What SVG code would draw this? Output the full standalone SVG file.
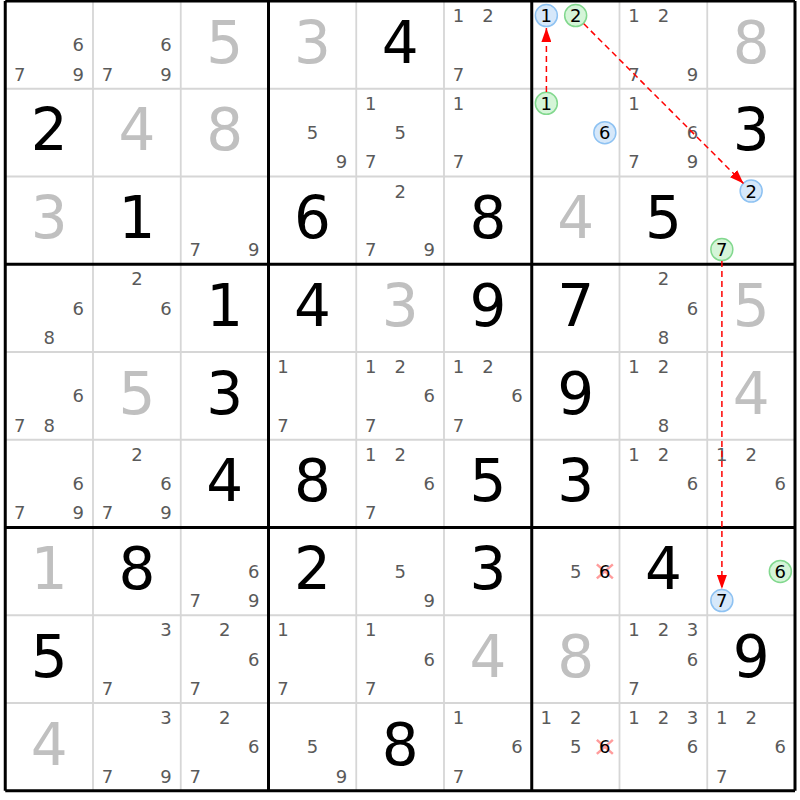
<svg xmlns="http://www.w3.org/2000/svg" width="800" height="800" viewBox="0 0 800 800">
<style>
text{font-family:"DejaVu Sans","Noto Sans",sans-serif;text-anchor:middle}
.c{font-size:18px;fill:#5a5a5a}
.k{font-size:18px;fill:#000}
.v{font-size:58px;fill:#000}
.g{font-size:58px;fill:#c0c0c0}
.thin{stroke:#d6d6d6;stroke-width:1.8}
.thick{stroke:#000;stroke-width:3}
.cb{fill:#d6e8fa;stroke:#8ec2f2;stroke-width:1.5}
.cg{fill:#d5f5d8;stroke:#82d88e;stroke-width:1.5}
.x{stroke:#ff9c9c;stroke-width:2.5}
.arr{stroke:#ff0000;stroke-width:1.5;stroke-dasharray:6 4;fill:none}
</style>
<defs>
<marker id="ah" markerUnits="userSpaceOnUse" markerWidth="14" markerHeight="10" refX="14" refY="5" orient="auto">
<path d="M0,0 L14,5 L0,10 z" fill="#ff0000"/>
</marker>
</defs>
<rect width="800" height="800" fill="#fff"/>
<g id="grid">
<path class="thin" d="M93 1V790.75M180.75 1V790.75M356.25 1V790.75M444 1V790.75M619.5 1V790.75M707.25 1V790.75M5.25 88.75H795M5.25 176.5H795M5.25 352H795M5.25 439.75H795M5.25 615.25H795M5.25 703H795"/>
<path class="thick" d="M5.25 1V790.75M268.5 1V790.75M531.75 1V790.75M795 1V790.75M5.25 1H795M5.25 264.25H795M5.25 527.5H795M5.25 790.75H795"/>
</g>
<!-- Row 0 -->
<g id="r0c0" transform="translate(5.25,1)"><text class="c" x="73.1" y="50.4">6</text><text class="c" x="14.6" y="79.6">7</text><text class="c" x="73.1" y="79.6">9</text></g>
<g id="r0c1" transform="translate(93,1)"><text class="c" x="73.1" y="50.4">6</text><text class="c" x="14.6" y="79.6">7</text><text class="c" x="73.1" y="79.6">9</text></g>
<g id="r0c2" transform="translate(180.75,1)"><text class="g" x="43.9" y="61.5">5</text></g>
<g id="r0c3" transform="translate(268.5,1)"><text class="g" x="43.9" y="61.5">3</text></g>
<g id="r0c4" transform="translate(356.25,1)"><text class="v" x="43.9" y="61.5">4</text></g>
<g id="r0c5" transform="translate(444,1)"><text class="c" x="14.6" y="21.1">1</text><text class="c" x="43.9" y="21.1">2</text><text class="c" x="14.6" y="79.6">7</text></g>
<g id="r0c6" transform="translate(531.75,1)"><circle class="cb" cx="14.6" cy="14.6" r="11"/><text class="k" x="14.6" y="21.1">1</text><circle class="cg" cx="43.9" cy="14.6" r="11"/><text class="k" x="43.9" y="21.1">2</text></g>
<g id="r0c7" transform="translate(619.5,1)"><text class="c" x="14.6" y="21.1">1</text><text class="c" x="43.9" y="21.1">2</text><text class="c" x="14.6" y="79.6">7</text><text class="c" x="73.1" y="79.6">9</text></g>
<g id="r0c8" transform="translate(707.25,1)"><text class="g" x="43.9" y="61.5">8</text></g>
<!-- Row 1 -->
<g id="r1c0" transform="translate(5.25,88.75)"><text class="v" x="43.9" y="61.5">2</text></g>
<g id="r1c1" transform="translate(93,88.75)"><text class="g" x="43.9" y="61.5">4</text></g>
<g id="r1c2" transform="translate(180.75,88.75)"><text class="g" x="43.9" y="61.5">8</text></g>
<g id="r1c3" transform="translate(268.5,88.75)"><text class="c" x="43.9" y="50.4">5</text><text class="c" x="73.1" y="79.6">9</text></g>
<g id="r1c4" transform="translate(356.25,88.75)"><text class="c" x="14.6" y="21.1">1</text><text class="c" x="43.9" y="50.4">5</text><text class="c" x="14.6" y="79.6">7</text></g>
<g id="r1c5" transform="translate(444,88.75)"><text class="c" x="14.6" y="21.1">1</text><text class="c" x="14.6" y="79.6">7</text></g>
<g id="r1c6" transform="translate(531.75,88.75)"><circle class="cg" cx="14.6" cy="14.6" r="11"/><text class="k" x="14.6" y="21.1">1</text><circle class="cb" cx="73.1" cy="43.9" r="11"/><text class="k" x="73.1" y="50.4">6</text></g>
<g id="r1c7" transform="translate(619.5,88.75)"><text class="c" x="14.6" y="21.1">1</text><text class="c" x="73.1" y="50.4">6</text><text class="c" x="14.6" y="79.6">7</text><text class="c" x="73.1" y="79.6">9</text></g>
<g id="r1c8" transform="translate(707.25,88.75)"><text class="v" x="43.9" y="61.5">3</text></g>
<!-- Row 2 -->
<g id="r2c0" transform="translate(5.25,176.5)"><text class="g" x="43.9" y="61.5">3</text></g>
<g id="r2c1" transform="translate(93,176.5)"><text class="v" x="43.9" y="61.5">1</text></g>
<g id="r2c2" transform="translate(180.75,176.5)"><text class="c" x="14.6" y="79.6">7</text><text class="c" x="73.1" y="79.6">9</text></g>
<g id="r2c3" transform="translate(268.5,176.5)"><text class="v" x="43.9" y="61.5">6</text></g>
<g id="r2c4" transform="translate(356.25,176.5)"><text class="c" x="43.9" y="21.1">2</text><text class="c" x="14.6" y="79.6">7</text><text class="c" x="73.1" y="79.6">9</text></g>
<g id="r2c5" transform="translate(444,176.5)"><text class="v" x="43.9" y="61.5">8</text></g>
<g id="r2c6" transform="translate(531.75,176.5)"><text class="g" x="43.9" y="61.5">4</text></g>
<g id="r2c7" transform="translate(619.5,176.5)"><text class="v" x="43.9" y="61.5">5</text></g>
<g id="r2c8" transform="translate(707.25,176.5)"><circle class="cb" cx="43.9" cy="14.6" r="11"/><text class="k" x="43.9" y="21.1">2</text><circle class="cg" cx="14.6" cy="73.1" r="11"/><text class="k" x="14.6" y="79.6">7</text></g>
<!-- Row 3 -->
<g id="r3c0" transform="translate(5.25,264.25)"><text class="c" x="73.1" y="50.4">6</text><text class="c" x="43.9" y="79.6">8</text></g>
<g id="r3c1" transform="translate(93,264.25)"><text class="c" x="43.9" y="21.1">2</text><text class="c" x="73.1" y="50.4">6</text></g>
<g id="r3c2" transform="translate(180.75,264.25)"><text class="v" x="43.9" y="61.5">1</text></g>
<g id="r3c3" transform="translate(268.5,264.25)"><text class="v" x="43.9" y="61.5">4</text></g>
<g id="r3c4" transform="translate(356.25,264.25)"><text class="g" x="43.9" y="61.5">3</text></g>
<g id="r3c5" transform="translate(444,264.25)"><text class="v" x="43.9" y="61.5">9</text></g>
<g id="r3c6" transform="translate(531.75,264.25)"><text class="v" x="43.9" y="61.5">7</text></g>
<g id="r3c7" transform="translate(619.5,264.25)"><text class="c" x="43.9" y="21.1">2</text><text class="c" x="73.1" y="50.4">6</text><text class="c" x="43.9" y="79.6">8</text></g>
<g id="r3c8" transform="translate(707.25,264.25)"><text class="g" x="43.9" y="61.5">5</text></g>
<!-- Row 4 -->
<g id="r4c0" transform="translate(5.25,352)"><text class="c" x="73.1" y="50.4">6</text><text class="c" x="14.6" y="79.6">7</text><text class="c" x="43.9" y="79.6">8</text></g>
<g id="r4c1" transform="translate(93,352)"><text class="g" x="43.9" y="61.5">5</text></g>
<g id="r4c2" transform="translate(180.75,352)"><text class="v" x="43.9" y="61.5">3</text></g>
<g id="r4c3" transform="translate(268.5,352)"><text class="c" x="14.6" y="21.1">1</text><text class="c" x="14.6" y="79.6">7</text></g>
<g id="r4c4" transform="translate(356.25,352)"><text class="c" x="14.6" y="21.1">1</text><text class="c" x="43.9" y="21.1">2</text><text class="c" x="73.1" y="50.4">6</text><text class="c" x="14.6" y="79.6">7</text></g>
<g id="r4c5" transform="translate(444,352)"><text class="c" x="14.6" y="21.1">1</text><text class="c" x="43.9" y="21.1">2</text><text class="c" x="73.1" y="50.4">6</text><text class="c" x="14.6" y="79.6">7</text></g>
<g id="r4c6" transform="translate(531.75,352)"><text class="v" x="43.9" y="61.5">9</text></g>
<g id="r4c7" transform="translate(619.5,352)"><text class="c" x="14.6" y="21.1">1</text><text class="c" x="43.9" y="21.1">2</text><text class="c" x="43.9" y="79.6">8</text></g>
<g id="r4c8" transform="translate(707.25,352)"><text class="g" x="43.9" y="61.5">4</text></g>
<!-- Row 5 -->
<g id="r5c0" transform="translate(5.25,439.75)"><text class="c" x="73.1" y="50.4">6</text><text class="c" x="14.6" y="79.6">7</text><text class="c" x="73.1" y="79.6">9</text></g>
<g id="r5c1" transform="translate(93,439.75)"><text class="c" x="43.9" y="21.1">2</text><text class="c" x="73.1" y="50.4">6</text><text class="c" x="14.6" y="79.6">7</text><text class="c" x="73.1" y="79.6">9</text></g>
<g id="r5c2" transform="translate(180.75,439.75)"><text class="v" x="43.9" y="61.5">4</text></g>
<g id="r5c3" transform="translate(268.5,439.75)"><text class="v" x="43.9" y="61.5">8</text></g>
<g id="r5c4" transform="translate(356.25,439.75)"><text class="c" x="14.6" y="21.1">1</text><text class="c" x="43.9" y="21.1">2</text><text class="c" x="73.1" y="50.4">6</text><text class="c" x="14.6" y="79.6">7</text></g>
<g id="r5c5" transform="translate(444,439.75)"><text class="v" x="43.9" y="61.5">5</text></g>
<g id="r5c6" transform="translate(531.75,439.75)"><text class="v" x="43.9" y="61.5">3</text></g>
<g id="r5c7" transform="translate(619.5,439.75)"><text class="c" x="14.6" y="21.1">1</text><text class="c" x="43.9" y="21.1">2</text><text class="c" x="73.1" y="50.4">6</text></g>
<g id="r5c8" transform="translate(707.25,439.75)"><text class="c" x="14.6" y="21.1">1</text><text class="c" x="43.9" y="21.1">2</text><text class="c" x="73.1" y="50.4">6</text></g>
<!-- Row 6 -->
<g id="r6c0" transform="translate(5.25,527.5)"><text class="g" x="43.9" y="61.5">1</text></g>
<g id="r6c1" transform="translate(93,527.5)"><text class="v" x="43.9" y="61.5">8</text></g>
<g id="r6c2" transform="translate(180.75,527.5)"><text class="c" x="73.1" y="50.4">6</text><text class="c" x="14.6" y="79.6">7</text><text class="c" x="73.1" y="79.6">9</text></g>
<g id="r6c3" transform="translate(268.5,527.5)"><text class="v" x="43.9" y="61.5">2</text></g>
<g id="r6c4" transform="translate(356.25,527.5)"><text class="c" x="43.9" y="50.4">5</text><text class="c" x="73.1" y="79.6">9</text></g>
<g id="r6c5" transform="translate(444,527.5)"><text class="v" x="43.9" y="61.5">3</text></g>
<g id="r6c6" transform="translate(531.75,527.5)"><text class="c" x="43.9" y="50.4">5</text><path class="x" d="M65.1 36.9L81.1 50.9M81.1 36.9L65.1 50.9"/><text class="k" x="73.1" y="50.4">6</text></g>
<g id="r6c7" transform="translate(619.5,527.5)"><text class="v" x="43.9" y="61.5">4</text></g>
<g id="r6c8" transform="translate(707.25,527.5)"><circle class="cg" cx="73.1" cy="43.9" r="11"/><text class="k" x="73.1" y="50.4">6</text><circle class="cb" cx="14.6" cy="73.1" r="11"/><text class="k" x="14.6" y="79.6">7</text></g>
<!-- Row 7 -->
<g id="r7c0" transform="translate(5.25,615.25)"><text class="v" x="43.9" y="61.5">5</text></g>
<g id="r7c1" transform="translate(93,615.25)"><text class="c" x="73.1" y="21.1">3</text><text class="c" x="14.6" y="79.6">7</text></g>
<g id="r7c2" transform="translate(180.75,615.25)"><text class="c" x="43.9" y="21.1">2</text><text class="c" x="73.1" y="50.4">6</text><text class="c" x="14.6" y="79.6">7</text></g>
<g id="r7c3" transform="translate(268.5,615.25)"><text class="c" x="14.6" y="21.1">1</text><text class="c" x="14.6" y="79.6">7</text></g>
<g id="r7c4" transform="translate(356.25,615.25)"><text class="c" x="14.6" y="21.1">1</text><text class="c" x="73.1" y="50.4">6</text><text class="c" x="14.6" y="79.6">7</text></g>
<g id="r7c5" transform="translate(444,615.25)"><text class="g" x="43.9" y="61.5">4</text></g>
<g id="r7c6" transform="translate(531.75,615.25)"><text class="g" x="43.9" y="61.5">8</text></g>
<g id="r7c7" transform="translate(619.5,615.25)"><text class="c" x="14.6" y="21.1">1</text><text class="c" x="43.9" y="21.1">2</text><text class="c" x="73.1" y="21.1">3</text><text class="c" x="73.1" y="50.4">6</text><text class="c" x="14.6" y="79.6">7</text></g>
<g id="r7c8" transform="translate(707.25,615.25)"><text class="v" x="43.9" y="61.5">9</text></g>
<!-- Row 8 -->
<g id="r8c0" transform="translate(5.25,703)"><text class="g" x="43.9" y="61.5">4</text></g>
<g id="r8c1" transform="translate(93,703)"><text class="c" x="73.1" y="21.1">3</text><text class="c" x="14.6" y="79.6">7</text><text class="c" x="73.1" y="79.6">9</text></g>
<g id="r8c2" transform="translate(180.75,703)"><text class="c" x="43.9" y="21.1">2</text><text class="c" x="73.1" y="50.4">6</text><text class="c" x="14.6" y="79.6">7</text></g>
<g id="r8c3" transform="translate(268.5,703)"><text class="c" x="43.9" y="50.4">5</text><text class="c" x="73.1" y="79.6">9</text></g>
<g id="r8c4" transform="translate(356.25,703)"><text class="v" x="43.9" y="61.5">8</text></g>
<g id="r8c5" transform="translate(444,703)"><text class="c" x="14.6" y="21.1">1</text><text class="c" x="73.1" y="50.4">6</text><text class="c" x="14.6" y="79.6">7</text></g>
<g id="r8c6" transform="translate(531.75,703)"><text class="c" x="14.6" y="21.1">1</text><text class="c" x="43.9" y="21.1">2</text><text class="c" x="43.9" y="50.4">5</text><path class="x" d="M65.1 36.9L81.1 50.9M81.1 36.9L65.1 50.9"/><text class="k" x="73.1" y="50.4">6</text></g>
<g id="r8c7" transform="translate(619.5,703)"><text class="c" x="14.6" y="21.1">1</text><text class="c" x="43.9" y="21.1">2</text><text class="c" x="73.1" y="21.1">3</text><text class="c" x="73.1" y="50.4">6</text></g>
<g id="r8c8" transform="translate(707.25,703)"><text class="c" x="14.6" y="21.1">1</text><text class="c" x="43.9" y="21.1">2</text><text class="c" x="73.1" y="50.4">6</text><text class="c" x="14.6" y="79.6">7</text></g>
<g id="connectors">
<path class="arr" d="M546.4 92V28" marker-end="url(#ah)"/>
<path class="arr" d="M583.8 23.8L743.5 183.5" marker-end="url(#ah)"/>
<path class="arr" d="M721.9 261V589" marker-end="url(#ah)"/>
</g>
</svg>
